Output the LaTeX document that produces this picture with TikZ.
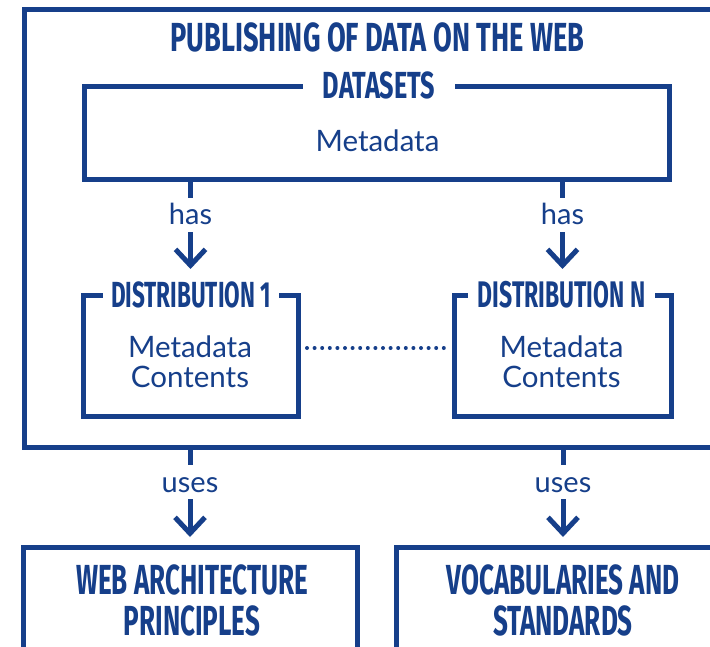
\documentclass[tikz,border=0pt]{standalone}
\usepackage{fontspec}
\setmainfont{Lato}
\newfontfamily\headfont[FakeStretch=0.62]{Fira Sans}
\newfontfamily\titlefont[FakeStretch=0.67]{Fira Sans}
\usetikzlibrary{arrows.meta}
\definecolor{navy}{RGB}{22,63,138}

\tikzset{
  frame/.style={draw=navy, line width=5pt, rectangle, inner sep=0pt, outer sep=0pt},
  gaptitle/.style={fill=white, text=navy, inner xsep=0pt, inner ysep=3pt,
    text depth=0pt},
  headline/.style={text=navy, inner sep=0pt, anchor=base,
    text height=29pt, text depth=0pt},
  body/.style={text=navy, inner sep=0pt, anchor=base, font=\fontsize{29.5}{30}\selectfont},
  lbl/.style={fill=white, text=navy, inner xsep=3pt, inner ysep=7pt,
    text height=20pt, text depth=0pt, font=\fontsize{29}{30}\selectfont},
  conn/.style={draw=navy, line width=5pt,
    -{Straight Barb[length=16pt, width=30pt, sharp]}},
  dotline/.style={draw=navy, line width=4pt, line cap=round,
    dash pattern=on 0pt off 7.6pt}
}

\begin{document}
\begin{tikzpicture}[x=1pt, y=-1pt]
  \useasboundingbox (0,0) rectangle (710,647);
  \fill[white] (0,0) rectangle (710,647);
  \clip (0,0) rectangle (710,647);

  % outer container and its heading
  \node[frame, minimum width=716pt, minimum height=437pt] (pub) at (382,228.5) {};
  \node[headline, font=\titlefont\bfseries\fontsize{40.6}{41}\selectfont] (title) at (377.5,51.5) {PUBLISHING OF DATA ON THE WEB};

  % datasets box
  \node[frame, minimum width=585pt, minimum height=93pt] (ds) at (376.5,133.5) {};
  \node[gaptitle, text height=26pt, minimum width=152pt,
    font=\titlefont\bfseries\fontsize{37.7}{38}\selectfont] (dstitle) at (379,86) {DATASETS};
  \node[body] (dsmeta) at (377.5,152) {Metadata};

  % distribution boxes
  \node[frame, minimum width=215pt, minimum height=120pt] (d1) at (190.5,356) {};
  \node[gaptitle, text height=25pt, minimum width=176pt,
    font=\headfont\bfseries\fontsize{36.3}{37}\selectfont] (d1title) at (191,295.5) {DISTRIBUTION 1};
  \node[body] (d1meta) at (190,357) {Metadata};
  \node[body] (d1cont) at (190,387) {Contents};

  \node[frame, minimum width=217pt, minimum height=120pt] (dN) at (562.5,356) {};
  \node[gaptitle, text height=25pt, minimum width=187pt,
    font=\headfont\bfseries\fontsize{37}{37}\selectfont] (dNtitle) at (561.5,295.5) {DISTRIBUTION N};
  \node[body] (dNmeta) at (561.5,357) {Metadata};
  \node[body] (dNcont) at (561.5,387) {Contents};

  % bottom boxes
  \node[frame, minimum width=334pt, minimum height=153pt] (arch) at (190,623.5) {};
  \node[headline, font=\headfont\bfseries\fontsize{42}{42}\selectfont] (archA) at (192,594) {WEB ARCHITECTURE};
  \node[headline, font=\headfont\bfseries\fontsize{42}{42}\selectfont] (archB) at (192,635) {PRINCIPLES};

  \node[frame, minimum width=334pt, minimum height=153pt] (voc) at (563,623.5) {};
  \node[headline, font=\headfont\bfseries\fontsize{42}{42}\selectfont] (vocA) at (563,594) {VOCABULARIES AND};
  \node[headline, font=\headfont\bfseries\fontsize{42}{42}\selectfont] (vocB) at (563,635) {STANDARDS};

  % connectors
  \draw[conn, shorten >=27pt] (ds.south -| d1.north) -- node[lbl, pos=0.30] {has} (d1.north);
  \draw[conn, shorten >=27pt] (ds.south -| dN.north) -- node[lbl, pos=0.30] {has} (dN.north);
  \draw[dotline] ([shift={(9pt,8pt)}]d1.east) -- ([shift={(-7pt,8pt)}]dN.west);
  \draw[conn, shorten >=10pt] (pub.south -| arch.north) -- node[lbl, pos=0.35] {uses} (arch.north);
  \draw[conn, shorten >=10pt] (pub.south -| voc.north) -- node[lbl, pos=0.35] {uses} (voc.north);
\end{tikzpicture}
\end{document}
